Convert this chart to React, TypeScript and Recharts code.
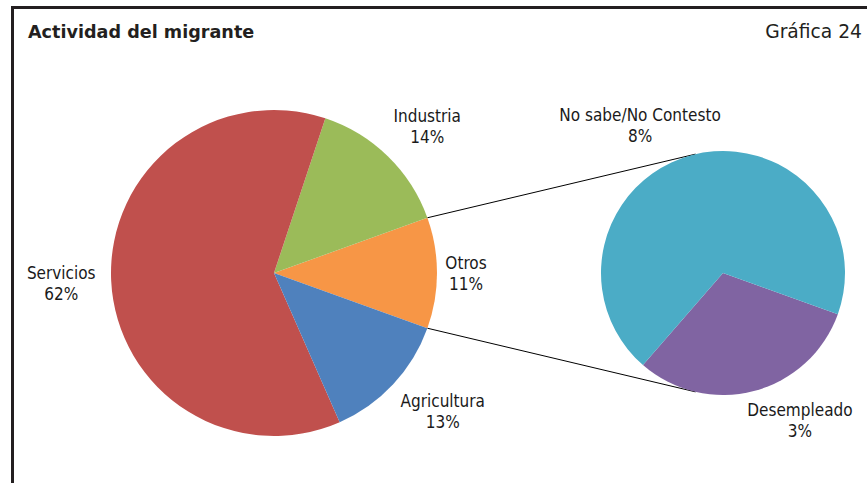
import React from "react";
import { PieChart, Pie, Cell } from "recharts";

// main pie (labels show rounded %)
const mainNames = ["Otros", "Industria", "Servicios", "Agricultura"];
const mainValues = [11.0, 14.4, 61.7, 12.9];
const mainColors = ["#F79646", "#9BBB59", "#C0504D", "#4F81BD"];

// breakdown of "Otros"
const subNames = ["Desempleado", "No sabe/No Contesto"];
const subValues = [3.4, 7.6];
const subColors = ["#8064A2", "#4BACC6"];

const W = 867;
const H = 483;
const FONT = "'DejaVu Sans', Verdana, sans-serif";
const LABEL_FONT = "'DejaVu Sans Condensed', 'DejaVu Sans', sans-serif";

const MAIN = { cx: 274, cy: 273, r: 163 };
const SUB = { cx: 723, cy: 273, r: 122 };

const mainData = mainNames.map((name, i) => ({ name, value: mainValues[i] }));
const subData = subNames.map((name, i) => ({ name, value: subValues[i] }));

const otrosHalf = (mainValues[0] / mainValues.reduce((a, b) => a + b, 0)) * 180;
const subStart = -131;

// label nudges [radial gap, dx, dy]
const mainLabelPos: Record<string, [number, number, number]> = {
	Otros: [30, -1, 0],
	Industria: [45, 8, 2],
	Servicios: [51, 1, 0],
	Agricultura: [50, 13, -7],
};
const subLabelPos: Record<string, [number, number, number]> = {
	"No sabe/No Contesto": [40, -42, 9],
	Desempleado: [40, 36, -10],
};

const RAD = Math.PI / 180;
const pt = (cx: number, cy: number, r: number, a: number) => ({
	x: cx + r * Math.cos(a * RAD),
	y: cy - r * Math.sin(a * RAD),
});

const makeLabel = (pos: Record<string, [number, number, number]>) => (props: any) => {
	const { cx, cy, midAngle, outerRadius, name, value } = props;
	const [gap, dx, dy] = pos[name] || [40, 0, 0];
	const p = pt(cx, cy, outerRadius + gap, midAngle);
	return (
		<text
			x={p.x + dx}
			y={p.y + dy}
			textAnchor="middle"
			fontFamily={LABEL_FONT}
			style={{ fontStretch: "condensed" }}
			fontSize={17}
			fill="#1a1a1a">
			<tspan x={p.x + dx} dy={-4}>
				{name}
			</tspan>
			<tspan x={p.x + dx} dy={21}>
				{Math.round(value)}%
			</tspan>
		</text>
	);
};

export default function App() {
	const connectAngle = 103;
	const a1 = pt(MAIN.cx, MAIN.cy, MAIN.r, otrosHalf);
	const a2 = pt(MAIN.cx, MAIN.cy, MAIN.r, -otrosHalf);
	const b1 = pt(SUB.cx, SUB.cy, SUB.r, connectAngle);
	const b2 = pt(SUB.cx, SUB.cy, SUB.r, -connectAngle);

	return (
		<div
			style={{
				position: "absolute",
				left: 0,
				top: 0,
				width: W,
				height: H,
				background: "#fff",
				overflow: "hidden",
			}}>
			<div
				style={{
					position: "absolute",
					left: 11,
					top: 6,
					width: W,
					height: H,
					borderTop: "3px solid #231f20",
					borderLeft: "3px solid #231f20",
				}}
			/>
			<div
				style={{
					position: "absolute",
					left: 28,
					top: 22,
					fontFamily: FONT,
					fontWeight: "bold",
					fontSize: 17.6,
					color: "#231f20",
				}}>
				Actividad del migrante
			</div>
			<div
				style={{
					position: "absolute",
					right: 5,
					top: 21,
					fontFamily: FONT,
					fontSize: 18.7,
					color: "#231f20",
				}}>
				Gráfica 24
			</div>
			<PieChart
				width={W}
				height={H}
				margin={{ top: 0, right: 0, bottom: 0, left: 0 }}
				style={{ position: "absolute", left: 0, top: 0 }}>
				<Pie
					data={mainData}
					dataKey="value"
					nameKey="name"
					cx={MAIN.cx}
					cy={MAIN.cy}
					outerRadius={MAIN.r}
					startAngle={-otrosHalf}
					endAngle={360 - otrosHalf}
					stroke="none"
					labelLine={false}
					label={makeLabel(mainLabelPos)}
					isAnimationActive={false}>
					{mainData.map((d, i) => (
						<Cell key={d.name} fill={mainColors[i]} />
					))}
				</Pie>
				<Pie
					data={subData}
					dataKey="value"
					nameKey="name"
					cx={SUB.cx}
					cy={SUB.cy}
					outerRadius={SUB.r}
					startAngle={subStart}
					endAngle={subStart + 360}
					stroke="none"
					labelLine={false}
					label={makeLabel(subLabelPos)}
					isAnimationActive={false}>
					{subData.map((d, i) => (
						<Cell key={d.name} fill={subColors[i]} />
					))}
				</Pie>
				<g>
					<line x1={a1.x} y1={a1.y} x2={b1.x} y2={b1.y} stroke="#000" strokeWidth={1} />
					<line x1={a2.x} y1={a2.y} x2={b2.x} y2={b2.y} stroke="#000" strokeWidth={1} />
				</g>
			</PieChart>
		</div>
	);
}
